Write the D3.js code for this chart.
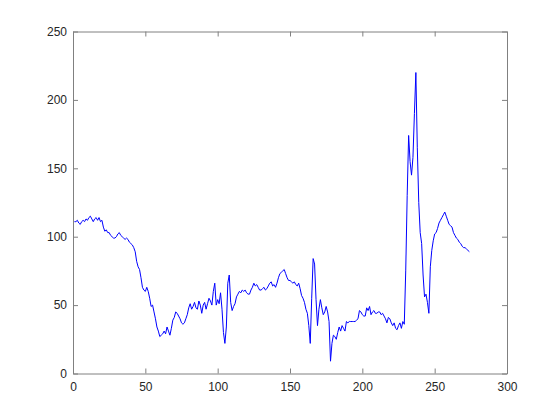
<!DOCTYPE html>
<html>
<head>
<meta charset="utf-8">
<script src="https://cdn.jsdelivr.net/npm/d3@7"></script>
<style>
  body { margin: 0; background: #fff; }
  svg { display: block; }
  .axis text { font-family: "Liberation Sans", Arial, sans-serif; font-size: 12px; fill: #262626; }
  .axis path, .axis line { stroke: #808080; }
</style>
</head>
<body>
<svg class="plot" width="560" height="420"></svg>
<script>
// signal values, x = 1..274
const values = [
  111, 111, 112, 110, 109, 111, 112, 111, 113, 112,
  114, 115, 113, 111, 113, 114, 112, 114, 111, 112,
  107, 104, 105, 103, 103, 101, 100, 99, 99, 100,
  102, 103, 101, 100, 99, 98, 99, 98, 96, 95,
  94, 92, 89, 82, 78, 76, 70, 63, 61, 60,
  63, 60, 55, 49, 50, 45, 40, 34, 31, 27,
  28, 29, 31, 29, 34, 31, 28, 33, 39, 41,
  45, 44, 42, 40, 37, 36, 37, 40, 43, 48,
  51, 47, 49, 52, 48, 47, 53, 50, 44, 50,
  52, 47, 51, 55, 53, 50, 60, 66, 50, 54,
  51, 59, 47, 30, 22, 34, 66, 72, 52, 46,
  49, 51, 56, 58, 60, 59, 61, 60, 61, 59,
  58, 58, 61, 63, 66, 64, 65, 63, 61, 61,
  62, 63, 61, 62, 64, 66, 67, 64, 65, 63,
  66, 70, 73, 74, 75, 76, 73, 70, 68, 68,
  67, 66, 67, 65, 64, 66, 62, 57, 55, 52,
  47, 44, 35, 22, 55, 84, 80, 54, 35, 47,
  54, 48, 43, 45, 49, 45, 38, 9, 22, 28,
  27, 25, 30, 34, 31, 35, 33, 31, 38, 37,
  38, 38, 38, 38, 38, 39, 40, 46, 45, 43,
  42, 42, 48, 46, 49, 43, 45, 46, 44, 44,
  45, 45, 43, 44, 42, 40, 37, 41, 40, 37,
  35, 37, 33, 32, 35, 37, 33, 38, 36, 75,
  130, 174, 155, 145, 158, 190, 220, 165, 125, 103,
  95, 72, 56, 58, 52, 44, 78, 90, 97, 102,
  103, 106, 110, 112, 114, 116, 118, 115, 112, 109,
  108, 107, 103, 101, 99, 98, 96, 95, 93, 92,
  92, 91, 90, 89
]
const xTicks = [0, 50, 100, 150, 200, 250, 300]
const yTicks = [0, 50, 100, 150, 200, 250]

const margin = {top: 31.5, right: 53, bottom: 46.5, left: 73}
const width = 560 - margin.left - margin.right
const height = 420 - margin.top - margin.bottom

const x = d3.scaleLinear().domain([0, 300]).range([0, width])
const y = d3.scaleLinear().domain([0, 250]).range([height, 0])

const g = d3.select('.plot')
  .append('g')
  .attr('transform', `translate(${margin.left},${margin.top})`)

g.append('g')
  .attr('class', 'axis')
  .attr('transform', `translate(0,${height})`)
  .call(d3.axisBottom(x).tickValues(xTicks).tickSize(-5).tickSizeOuter(0).tickPadding(9))

g.append('g')
  .attr('class', 'axis')
  .call(d3.axisLeft(y).tickValues(yTicks).tickSize(-5).tickSizeOuter(0).tickPadding(6))

g.append('g')
  .attr('class', 'axis')
  .call(d3.axisTop(x).tickValues(xTicks).tickSize(-5).tickSizeOuter(0).tickFormat(''))

g.append('g')
  .attr('class', 'axis')
  .attr('transform', `translate(${width},0)`)
  .call(d3.axisRight(y).tickValues(yTicks).tickSize(-5).tickSizeOuter(0).tickFormat(''))

const line = d3.line()
  .x((d, i) => x(i + 1))
  .y(d => y(d))

g.append('path')
  .datum(values)
  .attr('fill', 'none')
  .attr('stroke', '#0000ff')
  .attr('stroke-width', 1)
  .attr('d', line)
</script>
</body>
</html>
